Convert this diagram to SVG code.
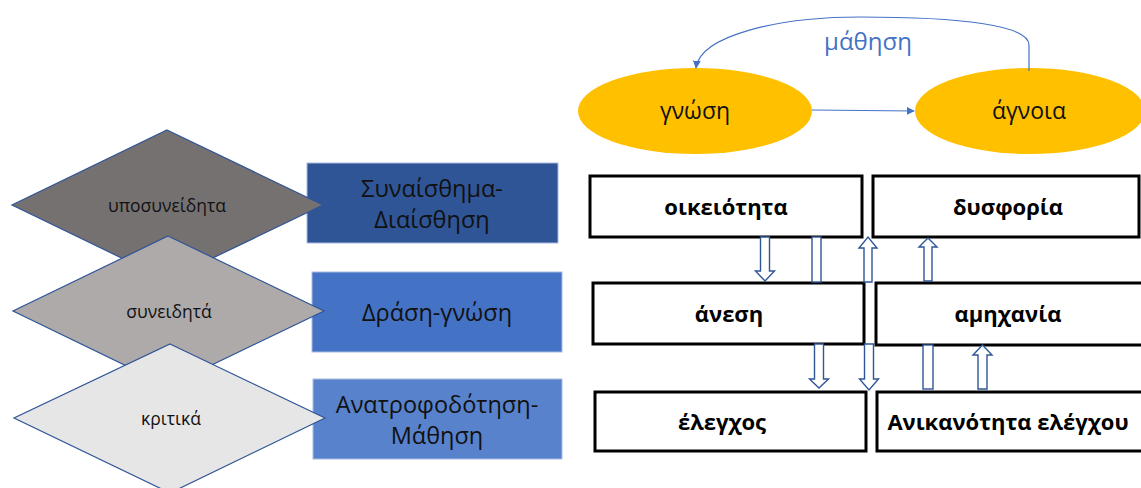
<svg xmlns="http://www.w3.org/2000/svg" width="1141" height="488" viewBox="0 0 1141 488">
<defs>
<style>
.dia{stroke:#2F5597;stroke-width:1.2}
.dt{font-family:"Open Sans","Noto Sans",sans-serif;font-size:17.5px;fill:#111;text-anchor:middle}
.lr{stroke:#A9BCE0;stroke-width:1}
.lt{font-family:"Open Sans","Noto Sans",sans-serif;font-size:23.5px;fill:#111;text-anchor:middle}
.ell{fill:#FFC000}
.et{font-family:"Open Sans","Noto Sans",sans-serif;font-size:23px;fill:#111;text-anchor:middle}
.box{fill:#fff;stroke:#000;stroke-width:3}
.bt{font-family:"Open Sans","Noto Sans",sans-serif;font-size:22px;font-weight:700;fill:#000;text-anchor:middle}
.blk{fill:#fff;stroke:#2F5597;stroke-width:1.4}
.ln{fill:none;stroke:#4472C4;stroke-width:1.2}
</style>
<marker id="ah" viewBox="0 0 10 10" refX="9" refY="5" markerWidth="8" markerHeight="8" markerUnits="userSpaceOnUse" orient="auto">
<path d="M0,0 L10,5 L0,10 z" fill="#4472C4"/>
</marker>
</defs>

<g id="rect-synaisthima"><rect x="307" y="163" width="251" height="80" fill="#2F5597" class="lr"/><text class="lt" x="432" y="197">Συναίσθημα-</text><text class="lt" x="432" y="228">Διαίσθηση</text></g>
<g id="rect-drasi"><rect x="312" y="272" width="250" height="80" fill="#4472C4" class="lr"/><text class="lt" x="437" y="321">Δράση-γνώση</text></g>
<g id="rect-anatrofodotisi"><rect x="313" y="379" width="249" height="80" fill="#5882CC" class="lr"/><text class="lt" x="437" y="413">Ανατροφοδότηση-</text><text class="lt" x="437" y="444">Μάθηση</text></g>

<g id="diamond-yposyneidita"><polygon class="dia" fill="#767171" points="167,130 323,205 167,280 12,205"/><text class="dt" x="167" y="212">υποσυνείδητα</text></g>
<g id="diamond-syneidita"><polygon class="dia" fill="#AEAAAA" points="168,236 324,311 168,386 13,311"/><text class="dt" x="169" y="318">συνειδητά</text></g>
<g id="diamond-kritika"><polygon class="dia" fill="#E7E6E6" points="170,344 325,418 170,493 14,418"/><text class="dt" x="171" y="425">κριτικά</text></g>

<g id="ellipse-gnosi"><ellipse class="ell" cx="695" cy="111" rx="117" ry="43"/><text class="et" x="695" y="119">γνώση</text></g>
<g id="ellipse-agnoia"><ellipse class="ell" cx="1030" cy="111" rx="115" ry="43"/><text class="et" x="1029" y="119">άγνοια</text></g>

<g id="box-oikeiotita"><rect class="box" x="590" y="176" width="272" height="61"/><text class="bt" x="726" y="215">οικειότητα</text></g>
<g id="box-dysforia"><rect class="box" x="873" y="176" width="266" height="61"/><text class="bt" x="1008" y="215">δυσφορία</text></g>
<g id="box-anesi"><rect class="box" x="593" y="283" width="271" height="61"/><text class="bt" x="729" y="322">άνεση</text></g>
<g id="box-amichania"><rect class="box" x="876" y="283" width="268" height="62"/><text class="bt" x="1008" y="322">αμηχανία</text></g>
<g id="box-elegchos"><rect class="box" x="595" y="392" width="271" height="59"/><text class="bt" x="722" y="430">έλεγχος</text></g>
<g id="box-anikanotita"><rect class="box" x="877" y="392" width="268" height="59"/><text class="bt" x="1008" y="430">Ανικανότητα ελέγχου</text></g>

<g id="connectors">
<line class="ln" x1="812" y1="110" x2="914" y2="111" marker-end="url(#ah)"/>
<path class="ln" d="M1029,71 L1029,45 C1029,25 960,17 860,17 C780,17 700,35 696,68" marker-end="url(#ah)"/>
<text x="868" y="50" font-family="Open Sans, Noto Sans, sans-serif" font-size="24" fill="#4472C4" text-anchor="middle">μάθηση</text>
<polygon class="blk" points="760.5,237 769.5,237 769.5,271 774.5,271 765,281 755.5,271 760.5,271"/>
<rect class="blk" x="812" y="237" width="9" height="45"/>
<polygon class="blk" points="864,282 872,282 872,248 877,248 868,237 859,248 864,248"/>
<polygon class="blk" points="924,281 932,281 932,247 937,247 928,238 919,247 924,247"/>
<polygon class="blk" points="814.5,344 823.5,344 823.5,379 828.5,379 819,388 809.5,379 814.5,379"/>
<polygon class="blk" points="864.5,344 873.5,344 873.5,379 878.5,379 869,390 859.5,379 864.5,379"/>
<rect class="blk" x="923" y="345" width="10" height="44"/>
<polygon class="blk" points="978,389 987,389 987,355 992,355 982.5,345 973,355 978,355"/>
</g>
</svg>
